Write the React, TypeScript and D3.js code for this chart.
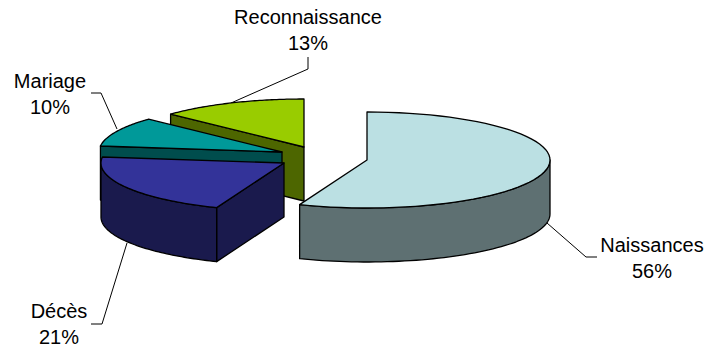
import React from "react";
import * as d3 from "d3";

// Share of each event type, in drawing order clockwise from twelve o'clock
const categories = ["Naissances", "Décès", "Mariage", "Reconnaissance"];
const shares = [56, 21, 10, 13];
const shareLabels = ["56%", "21%", "10%", "13%"];
const topColours = ["#BBE0E3", "#333399", "#009999", "#99CC00"];
const sideColours = ["#5E7072", "#1A1A4D", "#004D4D", "#4D6600"];

const WIDTH = 707;
const HEIGHT = 348;
const RX = 183;
const RY = 48;
const DEPTH = 54;
const FONT = "'Liberation Sans', Arial, sans-serif";
const FONT_SIZE = 20;
const LINE_GAP = 25.5;

// Where each exploded slice has its apex
const apexes: [number, number][] = [
  [367, 160],
  [284, 163],
  [282, 152],
  [304, 147],
];

// Leader lines and label anchors, one per category
const leaders: [number, number][][] = [
  [[547, 223], [586, 257], [597, 257]],
  [[127, 243], [102, 324], [91, 324]],
  [[117, 129], [101, 93], [91, 93]],
  [[231, 103], [308, 69], [308, 57]],
];
const labelAnchors: [number, number][] = [
  [652, 252],
  [59, 318],
  [50, 88],
  [308, 24],
];

const pie = d3.pie<number>().sort(null);
const arcs = pie(shares);
const line = d3.line();

function rim(i: number, a0: number, a1: number, dy = 0): [number, number][] {
  const [cx, cy] = apexes[i];
  return d3.range(0, 61).map((k) => {
    const a = a0 + ((a1 - a0) * k) / 60;
    return [cx + RX * Math.sin(a), cy - RY * Math.cos(a) + dy] as [number, number];
  });
}

// Outer wall, only for the part of the rim facing the viewer
function wallPath(i: number): string | null {
  const a0 = Math.max(arcs[i].startAngle, Math.PI / 2);
  const a1 = Math.min(arcs[i].endAngle, (3 * Math.PI) / 2);
  if (a1 <= a0) return null;
  const upper = rim(i, a0, a1);
  const lower = rim(i, a0, a1, DEPTH).reverse();
  return line([...upper, ...lower]) + "Z";
}

// Cut face hanging below the edge that runs from the apex to the given angle
function cutPath(i: number, a: number): string {
  const [cx, cy] = apexes[i];
  const [p] = rim(i, a, a);
  return (
    line([
      [cx, cy],
      p,
      [p[0], p[1] + DEPTH],
      [cx, cy + DEPTH],
    ]) + "Z"
  );
}

function topPath(i: number): string {
  return line([apexes[i], ...rim(i, arcs[i].startAngle, arcs[i].endAngle)]) + "Z";
}

const paintOrder = [3, 2, 1, 0];
const stroke = { stroke: "#000", strokeWidth: 1.3, strokeLinejoin: "round" as const };

export default function App() {
  return (
    <svg
      width={WIDTH}
      height={HEIGHT}
      style={{ position: "absolute", left: 0, top: 0, background: "#fff" }}
    >
      {categories.map((c, i) => (
        <path
          key={c}
          d={line(leaders[i]) as string}
          fill="none"
          stroke="#000"
          strokeWidth={1}
        />
      ))}
      {paintOrder.map((i) => {
        const wall = wallPath(i);
        return (
          <g key={categories[i]}>
            {i !== 0 && (
              <path d={cutPath(i, arcs[i].startAngle)} fill={sideColours[i]} {...stroke} />
            )}
            {wall && <path d={wall} fill={sideColours[i]} {...stroke} />}
            <path d={topPath(i)} fill={topColours[i]} {...stroke} />
          </g>
        );
      })}
      {categories.map((c, i) => (
        <text
          key={c}
          x={labelAnchors[i][0]}
          y={labelAnchors[i][1]}
          textAnchor="middle"
          fontFamily={FONT}
          fontSize={FONT_SIZE}
          fill="#000"
        >
          <tspan x={labelAnchors[i][0]}>{c}</tspan>
          <tspan x={labelAnchors[i][0]} dy={LINE_GAP}>
            {shareLabels[i]}
          </tspan>
        </text>
      ))}
    </svg>
  );
}
